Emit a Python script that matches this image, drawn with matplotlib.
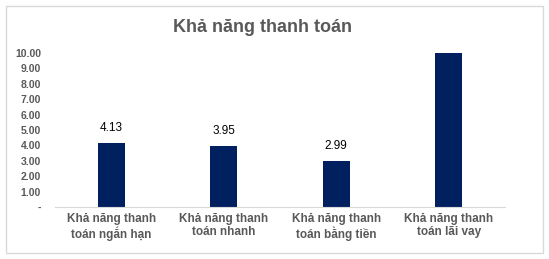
import numpy as np
from matplotlib import pyplot as plt
from matplotlib.patches import Rectangle

categories = ["Khả năng thanh\ntoán ngắn hạn", "Khả năng thanh\ntoán nhanh",
              "Khả năng thanh\ntoán bằng tiền", "Khả năng thanh\ntoán lãi vay"]
values = [4.13, 3.95, 2.99, 10.0]
labels = ["4.13", "3.95", "2.99", ""]
yticks = [0, 1, 2, 3, 4, 5, 6, 7, 8, 9, 10]

plt.rcParams['font.family'] = ['Liberation Sans', 'DejaVu Sans']
grey = '#595959'

fig = plt.figure(figsize=(5.49, 2.59), dpi=100)
ax = fig.add_axes([0.100, 0.201, 0.820, 0.594])

x = np.arange(len(categories))
bars = ax.bar(x, values, width=0.24, color='#002060')
for b, lab in zip(bars, labels):
    if lab:
        ax.text(b.get_x() + b.get_width() / 2, b.get_height() + 0.6, lab,
                ha='center', va='bottom', fontsize=8.5, color='black')

ax.set_xlim(-0.5, len(categories) - 0.5)
ax.set_ylim(0, 10)
ax.set_yticks(yticks)
ax.set_yticklabels(['-' if v == 0 else '%.2f' % v for v in yticks],
                   fontsize=7.5, fontweight='bold', color=grey)
ax.set_xticks(x)
ax.set_xticklabels(categories, fontsize=8.5, fontweight='bold', color=grey,
                   linespacing=1.2)
ax.tick_params(axis='both', length=0, pad=4)
ax.tick_params(axis='y', pad=10)
for s in ['top', 'right', 'left']:
    ax.spines[s].set_visible(False)
ax.spines['bottom'].set_color('#d9d9d9')

fig.text(0.478, 0.895, "Khả năng thanh toán", ha='center', va='center',
         fontsize=13, fontweight='bold', color=grey)
fig.patches.append(Rectangle((6 / 549, 6 / 259), 537 / 549, 247 / 259,
                             transform=fig.transFigure, fill=False,
                             edgecolor='#d9d9d9', linewidth=1))

fig.savefig('out.png', dpi=100)
